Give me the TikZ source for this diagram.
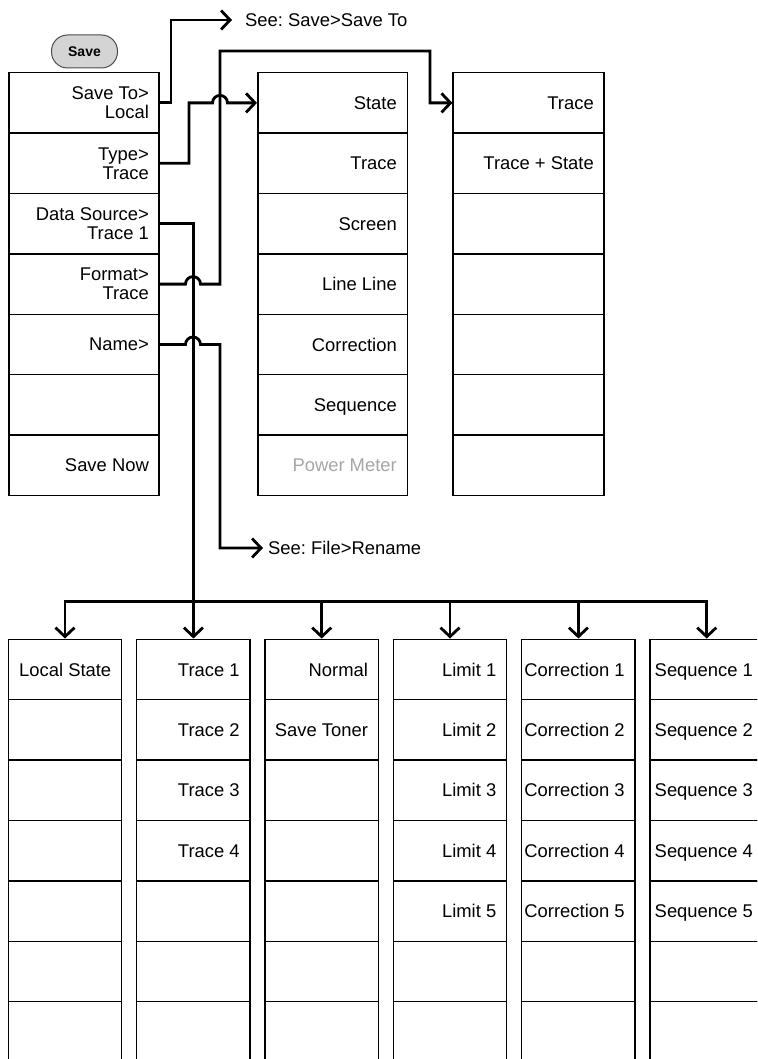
\documentclass[tikz,border=0pt]{standalone}
\usepackage{fontspec}
\setmainfont{Liberation Sans}
\usetikzlibrary{arrows.meta}
\definecolor{cbtn}{HTML}{D4D4D4}
\definecolor{cdim}{HTML}{A6A6A6}
\frenchspacing

\begin{document}
\begin{tikzpicture}[x=1pt,y=-1pt,
  key/.style={draw,line width=1.5pt,minimum height=60.4pt,inner sep=0pt},
  topkey/.style={key,minimum width=150pt},
  subkey/.style={key,minimum width=113.4pt},
  keytext/.style={anchor=east,align=right,inner sep=0pt,
    font=\fontsize{18.4}{19}\selectfont},
  keyline/.style={keytext,text height=13.2pt,text depth=0pt},
  hint/.style={anchor=west,inner sep=0pt,text height=13.2pt,text depth=0pt,
    font=\fontsize{18.4}{19}\selectfont},
  link/.style={line width=2.8pt},
  >={Straight Barb[length=9pt,width=19pt]}]
  \useasboundingbox (0,0) rectangle (757,1059);
  \clip (0,0) rectangle (757,1059);

  % soft key and the three upper menus
  \node[draw=black!70,fill=cbtn,line width=1pt,rounded corners=16pt,
    minimum width=66pt,minimum height=33pt,
    font=\fontsize{14}{16}\selectfont\bfseries] (savebtn) at (84.5,51.5) {Save};
  \foreach \t [count=\i] in {{Save To>\\Local},{Type>\\Trace},{Data Source>\\Trace 1},
      {Format>\\Trace},{Name>},{},{Save Now}} {
    \node[topkey] (sav\i) at (83.8,{72.7+60.4*(\i-1)+30.2}) {};
    \node[keytext] (sav\i-t) at ([xshift=-10.5pt]sav\i.east) {\t};
  }
  \foreach \t [count=\i] in {State,Trace,Screen,Line Line,Correction,Sequence,
      {\color{cdim}Power Meter}} {
    \node[topkey,minimum width=149.5pt] (typ\i) at (332.5,{72.7+60.4*(\i-1)+30.2}) {};
    \node[keyline] (typ\i-t) at ([xshift=-11pt]typ\i.east) {\t};
  }
  \foreach \t [count=\i] in {Trace,Trace + State,{},{},{},{},{}} {
    \node[topkey,minimum width=151pt] (fmt\i) at (528.7,{72.7+60.4*(\i-1)+30.2}) {};
    \node[keyline] (fmt\i-t) at ([xshift=-11pt]fmt\i.east) {\t};
  }

  % lower menus
  \foreach \t [count=\i] in {Local State,{},{},{},{},{},{}} {
    \node[subkey] (loc\i) at (65,{639.3+60.4*(\i-1)+30.2}) {};
    \node[keyline] (loc\i-t) at ([xshift=-11pt]loc\i.east) {\t};
  }
  \foreach \t [count=\i] in {Trace 1,Trace 2,Trace 3,Trace 4,{},{},{}} {
    \node[subkey] (trc\i) at (193.4,{639.3+60.4*(\i-1)+30.2}) {};
    \node[keyline] (trc\i-t) at ([xshift=-11pt]trc\i.east) {\t};
  }
  \foreach \t [count=\i] in {Normal,Save Toner,{},{},{},{},{}} {
    \node[subkey] (pw\i) at (321.7,{639.3+60.4*(\i-1)+30.2}) {};
    \node[keyline] (pw\i-t) at ([xshift=-11pt]pw\i.east) {\t};
  }
  \foreach \t [count=\i] in {Limit 1,Limit 2,Limit 3,Limit 4,Limit 5,{},{}} {
    \node[subkey] (lim\i) at (450,{639.3+60.4*(\i-1)+30.2}) {};
    \node[keyline] (lim\i-t) at ([xshift=-11pt]lim\i.east) {\t};
  }
  \foreach \t [count=\i] in {Correction 1,Correction 2,Correction 3,Correction 4,
      Correction 5,{},{}} {
    \node[subkey] (cor\i) at (578.4,{639.3+60.4*(\i-1)+30.2}) {};
    \node[keyline] (cor\i-t) at ([xshift=-11pt]cor\i.east) {\t};
  }
  \foreach \t [count=\i] in {Sequence 1,Sequence 2,Sequence 3,Sequence 4,
      Sequence 5,{},{}} {
    \node[subkey] (seq\i) at (706.7,{639.3+60.4*(\i-1)+30.2}) {};
    \node[keyline] (seq\i-t) at ([xshift=-11pt]seq\i.east) {\t};
  }

  % cross references
  \node[hint] (seesave) at (245,20) {See: Save>Save To};
  \node[hint] (seefile) at (268,548) {See: File>Rename};

  % connectors
  \draw[link,->,shorten >=13pt] (sav1.east) -- (171,102.9) |- (seesave.west);
  \draw[link,->] (sav2.east) -| (189,102.9) -- (212.5,102.9)
    arc[start angle=180,end angle=0,radius=7.5pt] -- (typ1.west);
  \draw[link,->] (sav4.east) -- (185.5,284.1)
    arc[start angle=180,end angle=0,radius=7.5pt] -| (220,51) -| (430,102.9)
    -- (fmt1.west);
  \draw[link,->,shorten >=5pt] (sav5.east) -- (185.5,344.5)
    arc[start angle=180,end angle=0,radius=7.5pt] -- (220,344.5) |- (seefile.west);

  \coordinate (busL) at (65,601.7);
  \coordinate (busR) at (706.7,601.7);
  \draw[link] (sav3.east) -| (193.4,601.7);
  \draw[link,line cap=rect] (busL) -- (busR);
  \foreach \c in {loc,trc,pw,lim,cor,seq}
    \draw[link,->] (\c1.north |- busL) -- (\c1.north);
\end{tikzpicture}
\end{document}
